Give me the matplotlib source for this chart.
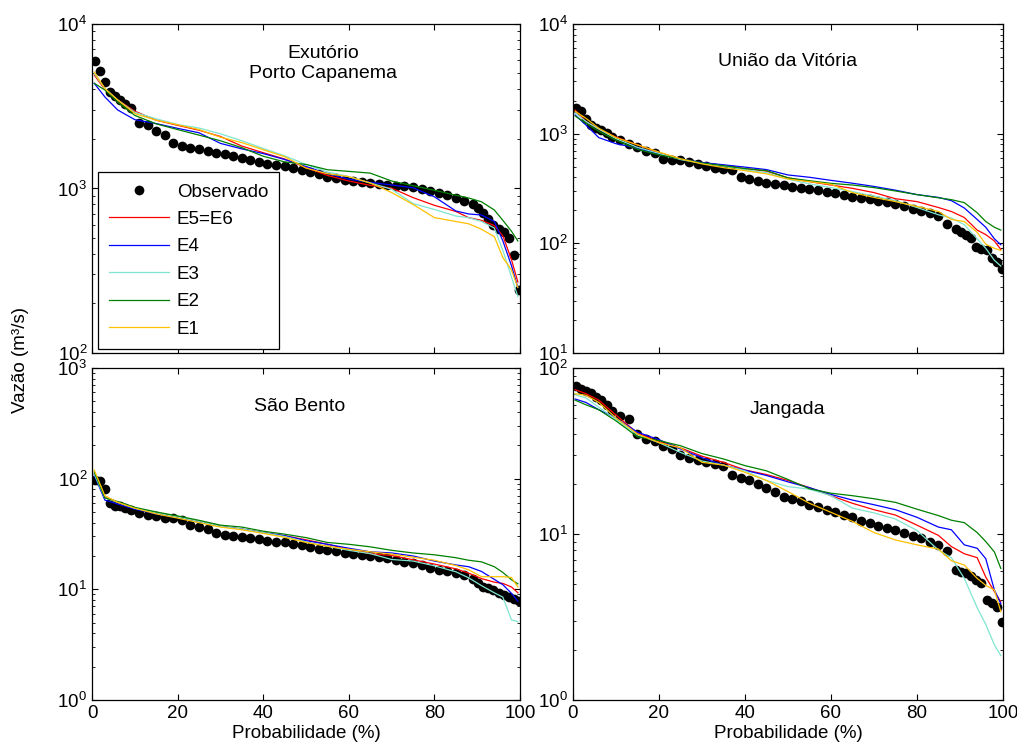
import matplotlib.pyplot as plt
from matplotlib.ticker import FixedLocator, LogLocator, NullFormatter, LogFormatterSciNotation

plt.rcParams['font.family'] = ['Liberation Sans', 'DejaVu Sans']
plt.rcParams['mathtext.fontset'] = 'custom'
plt.rcParams['mathtext.rm'] = 'Liberation Sans'
plt.rcParams['mathtext.it'] = 'Liberation Sans:italic'
plt.rcParams['font.size'] = 13.5

# exceedance probability (%) of the observed points and of the simulated curves
prob_obs = [0.6, 1.8, 3.0, 4.2, 5.4, 6.6, 7.8, 9, 11, 13, 15, 17, 19, 21, 23, 25, 27, 29, 31,
            33, 35, 37, 39, 41, 43, 45, 47, 49, 51, 53, 55, 57, 59, 61, 63, 65, 67, 69, 71, 73,
            75, 77, 79, 81, 83, 85, 87, 89, 90.2, 91.4, 92.6, 93.8, 95, 96.2, 97.4, 98.6, 99.8]
prob_sim = [0.5, 3, 6, 10, 15, 20, 25, 30, 35, 40, 45, 50, 55, 60, 65, 70, 75, 80, 85, 88,
            91, 94, 96, 98, 99.5]

# ---- Exutorio / Porto Capanema ----
obs_porto = [5990, 5200, 4440, 3850, 3650, 3450, 3250, 3080, 2500, 2430, 2250, 2100, 1900, 1800,
             1750, 1740, 1690, 1650, 1620, 1570, 1530, 1480, 1450, 1410, 1390, 1370, 1330, 1300,
             1260, 1220, 1180, 1150, 1130, 1110, 1090, 1080, 1065, 1050, 1040, 1030, 1015, 990,
             965, 945, 915, 880, 840, 800, 760, 710, 650, 600, 570, 540, 500, 395, 240]
e56_porto = [4900, 4000, 3450, 2950, 2600, 2420, 2260, 2070, 1810, 1650, 1510, 1340, 1200, 1110,
             1045, 1005, 880, 790, 725, 665, 640, 595, 515, 370, 270]
e4_porto = [4360, 3600, 3000, 2620, 2480, 2320, 2180, 1880, 1740, 1630, 1500, 1360, 1230, 1140,
            1090, 1050, 1010, 890, 730, 700, 690, 630, 480, 340, 250]
e3_porto = [5000, 4050, 3450, 2900, 2650, 2450, 2330, 2150, 1950, 1750, 1580, 1400, 1260, 1180,
            1080, 990, 810, 745, 680, 665, 630, 575, 420, 290, 220]
e2_porto = [4360, 3970, 3350, 2780, 2470, 2280, 2110, 1950, 1770, 1570, 1450, 1400, 1300, 1270,
            1240, 1110, 1040, 975, 910, 875, 830, 740, 640, 550, 480]
e1_porto = [5100, 4050, 3450, 2850, 2600, 2440, 2280, 2050, 1900, 1720, 1560, 1330, 1230, 1180,
            1080, 945, 800, 665, 630, 610, 565, 510, 380, 320, 250]

# ---- Uniao da Vitoria ----
obs_uniao = [1700, 1600, 1360, 1200, 1130, 1070, 1010, 940, 870, 810, 760, 690, 665, 590, 578,
             570, 556, 530, 512, 490, 475, 465, 405, 385, 370, 357, 345, 338, 328, 318, 312, 306,
             295, 285, 275, 267, 260, 253, 245, 238, 228, 218, 207, 198, 190, 178, 150, 134, 128,
             118, 112, 92, 88, 86, 73, 68, 58]
e56_uniao = [1640, 1290, 1100, 930, 790, 670, 590, 540, 510, 480, 455, 395, 365, 340, 317, 290,
             255, 240, 212, 195, 172, 132, 120, 105, 88]
e4_uniao = [1480, 1200, 920, 810, 736, 650, 590, 545, 520, 495, 470, 420, 400, 375, 353, 330,
            305, 278, 262, 245, 210, 165, 140, 110, 97]
e3_uniao = [1550, 1290, 1100, 900, 750, 660, 580, 535, 505, 470, 440, 385, 348, 322, 296, 270,
            245, 212, 182, 170, 148, 110, 90, 70, 62]
e2_uniao = [1450, 1245, 1050, 870, 720, 640, 590, 540, 510, 480, 460, 395, 372, 352, 340, 322,
            300, 278, 260, 250, 235, 190, 158, 140, 132]
e1_uniao = [1600, 1380, 1120, 920, 790, 680, 590, 530, 490, 460, 430, 385, 365, 345, 290, 262,
            240, 217, 195, 165, 158, 126, 98, 90, 86]

# ---- Sao Bento ----
obs_bento = [98, 95, 81, 60, 57, 56, 54, 52, 49, 47, 45.5, 44.5, 44, 42, 38, 36.5, 35, 32, 31,
             30, 29.5, 29, 28.5, 27.5, 27, 26.5, 25.5, 25, 24, 23.3, 22.5, 22, 21.5, 21, 20.5,
             20, 19.5, 19, 18.3, 17.8, 17.2, 16.5, 15.5, 15, 14.5, 14, 13.5, 12.5, 11.5, 10.6,
             10.2, 9.8, 9.3, 8.8, 8.5, 8.2, 7.8]
e56_bento = [110, 68, 61, 54, 49, 45, 41, 37, 35, 32.5, 30.5, 28, 25.5, 23, 21, 20.2, 18.5,
             16.9, 15.3, 14, 12.5, 11.6, 11.3, 10.5, 9.3]
e4_bento = [108, 64, 59, 53, 48, 44.5, 40.5, 37, 35, 32.5, 30.5, 27.5, 25.5, 23.5, 21.8, 21.3,
            20, 18, 16.6, 16, 14.5, 12.3, 11, 9.2, 7.8]
e3_bento = [110, 67, 61, 54, 49, 45, 41, 37, 35, 32.5, 30, 26.8, 24.5, 22.5, 21, 18.6, 18,
            16.3, 14.4, 12.7, 10.8, 9.3, 8.5, 5.3, 5.1]
e2_bento = [115, 67, 62, 55, 50, 46, 42, 38, 36.5, 33.5, 31.5, 29.3, 26.5, 25.5, 24.2, 22.5,
            21.3, 20.5, 19.3, 18.3, 17.7, 16, 14.2, 12.2, 11.2]
e1_bento = [120, 70, 61, 54, 48, 44, 40, 36.5, 34.5, 32, 29.5, 26.5, 24.5, 23, 21.8, 20.8, 19.5,
            18.3, 16.4, 15, 13, 13, 13, 12.8, 10.5]

# ---- Jangada ----
obs_jangada = [77.5, 75, 73, 71, 67, 64, 60, 55, 51, 49, 40, 37.5, 36.5, 34, 32.3, 30, 28.7, 28,
               27, 26.5, 25.8, 22.5, 21.8, 21.1, 20, 19, 17.8, 16.8, 16.3, 15.7, 15, 14.6, 14,
               13.5, 13, 12.7, 12, 11.6, 11.1, 10.8, 10.5, 10.1, 9.7, 9.5, 9.0, 8.6, 7.9, 6.1,
               5.9, 5.8, 5.6, 5.3, 5.1, 4.0, 3.85, 3.65, 2.95]
e56_jangada = [74, 70, 64, 52, 40.5, 36, 33, 29.4, 27, 24.3, 22.8, 21, 19, 17, 15.3, 14, 13,
               11.3, 9.8, 8.4, 7.6, 7.2, 5.5, 4.5, 3.9]
e4_jangada = [65, 62, 56, 50, 41, 37, 32.5, 28.8, 26, 24.2, 22.5, 20.6, 19, 17.3, 16, 15, 14,
              12.6, 11, 10.6, 8.6, 8.2, 7.1, 4.6, 3.8]
e3_jangada = [69, 66, 58, 49, 39.5, 35.5, 31, 27.5, 26, 24, 21, 19.3, 18.6, 17, 14.3, 13.4,
              12.3, 10.5, 8.0, 7.2, 5.4, 3.6, 2.85, 2.15, 1.85]
e2_jangada = [64, 60, 56, 48, 38.5, 36.5, 34, 30.5, 28.3, 25.8, 24, 21.3, 18.7, 17.6, 17, 16.3,
              15.5, 14.1, 12.9, 12.1, 11.7, 10.2, 9.0, 7.8, 6.2]
e1_jangada = [70, 68.5, 62, 50, 40, 35.5, 33, 27, 26, 23.5, 21, 18, 15.3, 13.5, 11.9, 10.2, 9.2,
              8.6, 8.1, 6.9, 6.5, 5.4, 4.9, 4.6, 3.4]

sim_labels = ["E5=E6", "E4", "E3", "E2", "E1"]
sim_colors = ["#ff0000", "#0000ff", "#7fe5d0", "#008000", "#ffc000"]


fig = plt.figure(figsize=(10.17, 7.56), dpi=100)


def draw_panel(rect, title, title_pos, obs, sims, ylim, bottom_row):
    ax = fig.add_axes(rect)
    handles = ax.plot(prob_obs, obs, 'o', color='black', markersize=7,
                      markeredgewidth=0, label='Observado')
    for vals, lab, col in zip(sims, sim_labels, sim_colors):
        handles += ax.plot(prob_sim, vals, '-', color=col, lw=0.9, label=lab)
    ax.set_yscale('log')
    ax.set_xlim(0, 100)
    ax.set_ylim(*ylim)
    ax.xaxis.set_major_locator(FixedLocator([0, 20, 40, 60, 80, 100]))
    ax.yaxis.set_major_locator(LogLocator(base=10, numticks=10))
    ax.yaxis.set_major_formatter(LogFormatterSciNotation())
    ax.yaxis.set_minor_locator(LogLocator(base=10, subs=(2, 3, 4, 5, 6, 7, 8, 9), numticks=20))
    ax.yaxis.set_minor_formatter(NullFormatter())
    ax.tick_params(which='both', direction='in', top=True, right=True, labelsize=13.5)
    ax.tick_params(which='major', length=4, width=0.8)
    ax.tick_params(which='minor', length=2.5, width=0.6)
    for sp in ax.spines.values():
        sp.set_linewidth(0.9)
    if bottom_row:
        ax.set_xlabel('Probabilidade (%)', labelpad=2)
    else:
        ax.set_xticklabels([])
    ax.text(title_pos[0], title_pos[1], title, transform=ax.transAxes,
            ha='center', va='center', fontsize=14, linespacing=1.2)
    return ax, handles


ax1, hs = draw_panel([0.0905, 0.5331, 0.4208, 0.4352], 'Exutório\nPorto Capanema', (0.54, 0.88),
                     obs_porto, [e56_porto, e4_porto, e3_porto, e2_porto, e1_porto],
                     (1e2, 1e4), False)
draw_panel([0.5634, 0.5331, 0.4228, 0.4352], 'União da Vitória', (0.50, 0.885),
           obs_uniao, [e56_uniao, e4_uniao, e3_uniao, e2_uniao, e1_uniao], (1e1, 1e4), False)
draw_panel([0.0905, 0.0741, 0.4208, 0.4392], 'São Bento', (0.486, 0.883),
           obs_bento, [e56_bento, e4_bento, e3_bento, e2_bento, e1_bento], (1e0, 1e3), True)
draw_panel([0.5634, 0.0741, 0.4228, 0.4392], 'Jangada', (0.50, 0.876),
           obs_jangada, [e56_jangada, e4_jangada, e3_jangada, e2_jangada, e1_jangada],
           (1e0, 1e2), True)

leg = ax1.legend(handles=hs, loc='lower left', bbox_to_anchor=(0.014, 0.012), borderaxespad=0,
                 fontsize=13.5, frameon=True, fancybox=False, framealpha=1, edgecolor='black',
                 handlelength=3.2, handletextpad=0.4, labelspacing=0.55, borderpad=0.6)
leg.get_frame().set_linewidth(0.9)

fig.text(0.02, 0.524, 'Vazão (m³/s)', rotation=90, ha='center', va='center', fontsize=13.5)

fig.savefig('out.png', dpi=100)
